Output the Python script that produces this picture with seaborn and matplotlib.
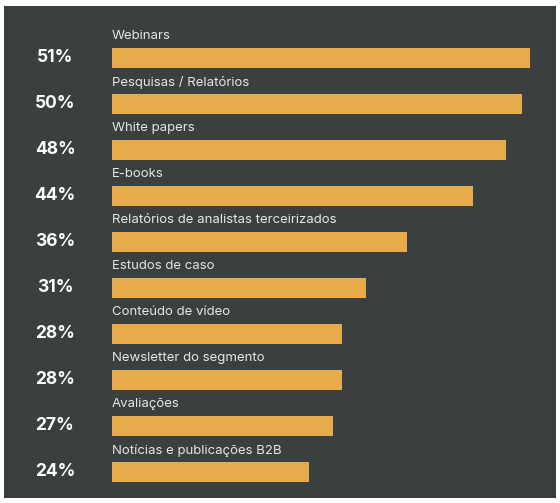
import matplotlib
matplotlib.use("Agg")
import matplotlib.pyplot as plt
import seaborn as sns
import pandas as pd
from matplotlib.patches import Rectangle
from matplotlib.transforms import blended_transform_factory

categories = ["Webinars", "Pesquisas / Relatórios", "White papers", "E-books",
              "Relatórios de analistas terceirizados", "Estudos de caso",
              "Conteúdo de vídeo", "Newsletter do segmento", "Avaliações",
              "Notícias e publicações B2B"]
values = [51, 50, 48, 44, 36, 31, 28, 28, 27, 24]
labels = ["51%", "50%", "48%", "44%", "36%", "31%", "28%", "28%", "27%", "24%"]

df = pd.DataFrame({"cat": categories, "val": values})
W, H = 560, 503
fig = plt.figure(figsize=(W/100, H/100), dpi=100, facecolor="white")
bg = "#3a3f3f"
fig.patches.append(Rectangle((4/W, 5/H), 552/W, 492/H, transform=fig.transFigure,
                             facecolor=bg, edgecolor="none", zorder=-10))
ax = fig.add_axes([112/W, 5/H, 444/W, 492/H])
ax.set_zorder(5)
ax.set_facecolor("none")
sns.barplot(data=df, y="cat", x="val", orient="h", color="#e8ab4b",
            width=20/46, saturation=1, ax=ax)
ax.set_xlim(0, 444/8.2)
ax.set_ylim(9 + 26/46, -52/46)
ax.axis("off")
tr = blended_transform_factory(fig.transFigure, ax.transData)
for i, (c, l) in enumerate(zip(categories, labels)):
    ax.text(0.0, i - 0.47, c, color="#e6e6e6", fontsize=9.5, va="center", ha="left",
            family="Inter")
    ax.text(55/W, i, l, transform=tr, color="white", fontsize=12.5, fontweight="bold",
            va="center", ha="center", family="Inter", clip_on=False)
fig.savefig("out.png", dpi=100, facecolor="white")
